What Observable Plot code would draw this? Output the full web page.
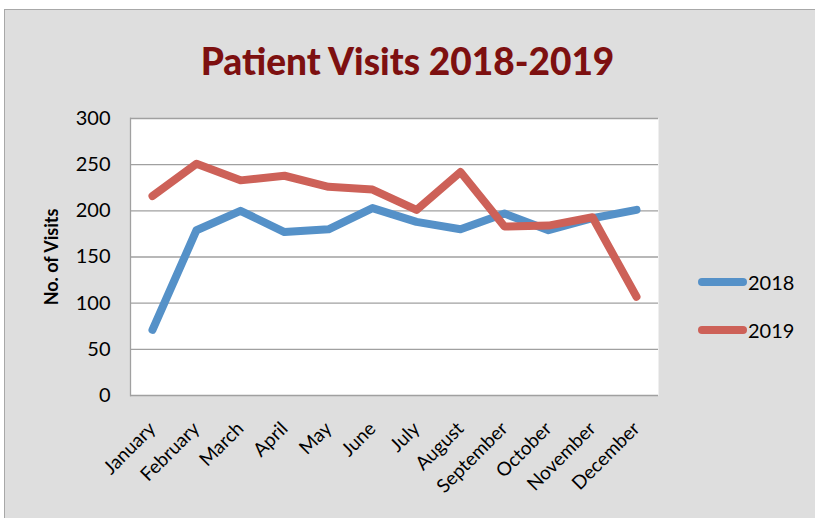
<!DOCTYPE html>
<html><head><meta charset="utf-8">
<script src="https://cdn.jsdelivr.net/npm/d3@7"></script>
<script src="https://cdn.jsdelivr.net/npm/@observablehq/plot@0.6"></script>
<style>
body{margin:0;background:#fff;font-family:Lato,sans-serif;}
#wrap{position:relative;width:815px;height:518px;overflow:hidden;}
#box{position:absolute;left:4px;top:9px;width:830px;height:530px;background:#dedede;border:1px solid #a8a8a8;}
#title{position:absolute;left:0;width:815px;top:37px;text-align:center;font-weight:900;font-size:37px;color:#7d1010;line-height:48px;}
#chart{position:absolute;left:0;top:0;}
#legend{position:absolute;left:697px;top:258px;}
.item{display:flex;align-items:center;height:48px;font-size:20px;color:#000;}
.item svg{display:block;}
</style>
</head><body>
<div id="wrap">
  <div id="box"></div>
  <div id="title">Patient Visits 2018-2019</div>
  <div id="chart"></div>
  <div id="legend"></div>
</div>
<script>
const months = ["January","February","March","April","May","June","July","August","September","October","November","December"];
const visits2018 = [71, 179, 200, 177, 180, 203, 188, 180, 197, 179, 192, 201];
const visits2019 = [216, 251, 233, 238, 226, 223, 201, 242, 183, 184, 193, 107];
const series = ["2018", "2019"];
const colors = ["#5591c8", "#cd6158"];
const yTicks = [0, 50, 100, 150, 200, 250, 300];

const data = months.flatMap((m, i) => [
  {month: m, year: series[0], visits: visits2018[i]},
  {month: m, year: series[1], visits: visits2019[i]}
]);

const chart = Plot.plot({
  width: 815, height: 518,
  marginLeft: 130, marginRight: 157, marginTop: 118, marginBottom: 123,
  style: {background: "transparent", fontFamily: "Lato, sans-serif", color: "#000", overflow: "visible"},
  x: {type: "point", domain: months, padding: 0.5},
  y: {domain: [0, 300]},
  color: {domain: series, range: colors},
  marks: [
    Plot.frame({fill: "white", stroke: null}),
    Plot.ruleY(yTicks, {stroke: "#a0a0a0", strokeWidth: 1.3}),
    Plot.frame({anchor: "left", stroke: "#a0a0a0", strokeWidth: 1.3}),
    Plot.line(data, {x: "month", y: "visits", z: "year", stroke: "year", strokeWidth: 8}),
    Plot.axisY({ticks: yTicks, tickSize: 0, tickPadding: 20, fontSize: 20, label: null}),
    Plot.axisY({ticks: [], tickSize: 0, fontSize: 18, fontWeight: "bold", label: "No. of Visits", labelAnchor: "center", labelArrow: "none", labelOffset: 85}),
    Plot.axisX({tickSize: 0, tickRotate: -45, tickPadding: 30, fontSize: 19, label: null})
  ]
});
document.getElementById("chart").appendChild(chart);

const legend = document.getElementById("legend");
series.forEach((s, i) => {
  const item = document.createElement("div");
  item.className = "item";
  item.innerHTML = `<svg width="51" height="10"><line x1="5" y1="5" x2="46" y2="5" stroke="${colors[i]}" stroke-width="8" stroke-linecap="round"/></svg><span>${s}</span>`;
  legend.appendChild(item);
});
</script>
</body></html>
